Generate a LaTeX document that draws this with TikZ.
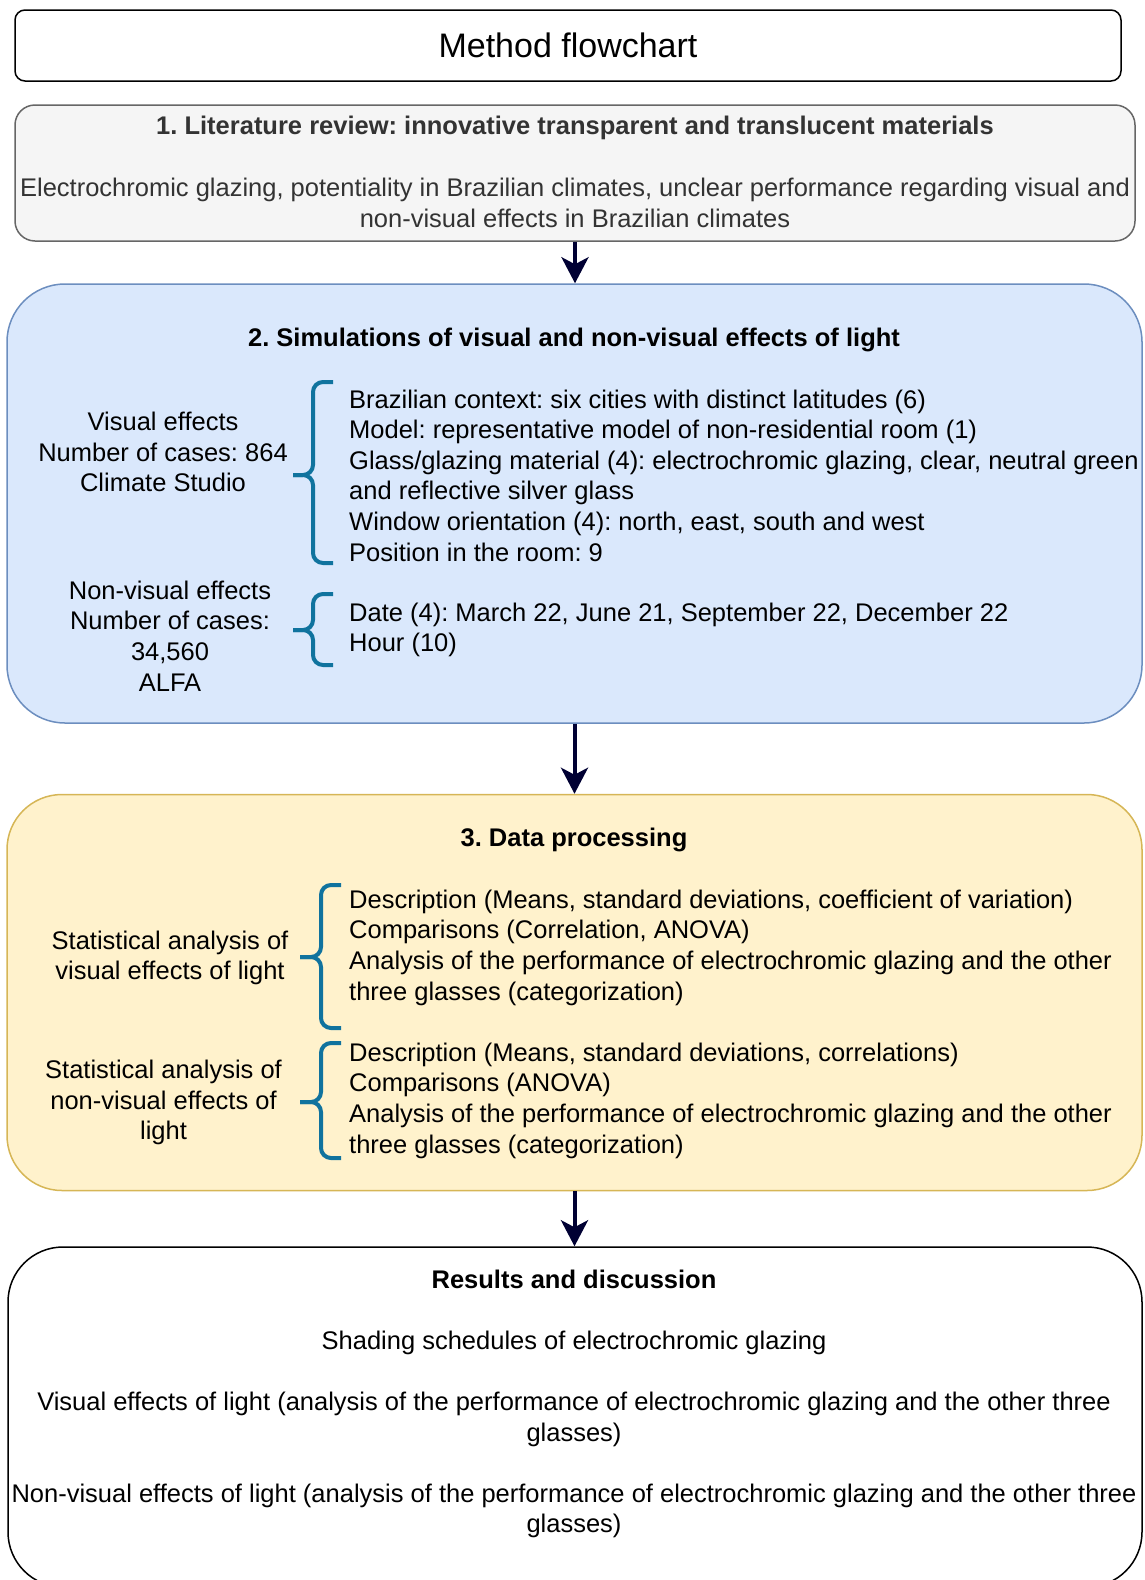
\documentclass[tikz,border=0pt]{standalone}
\usepackage{fontspec}
\setmainfont{Liberation Sans}
\usetikzlibrary{arrows.meta}
\frenchspacing

\definecolor{grayfill}{HTML}{F5F5F5}
\definecolor{graystroke}{HTML}{666666}
\definecolor{graytext}{HTML}{333333}
\definecolor{bluefill}{HTML}{DAE8FC}
\definecolor{bluestroke}{HTML}{6C8EBF}
\definecolor{yellowfill}{HTML}{FFF2CC}
\definecolor{yellowstroke}{HTML}{D6B656}
\definecolor{bracecol}{HTML}{10739E}
\definecolor{arrowcol}{HTML}{000033}

\tikzset{
  panel/.style={draw, line width=1.5pt, inner sep=0pt},
  txt/.style={font=\fontsize{25.5}{30.7}\selectfont, inner sep=0pt, align=center},
  listtxt/.style={font=\fontsize{25.5}{30.6}\selectfont, inner sep=0pt, align=left, anchor=west},
  headtxt/.style={font=\fontsize{25.5}{30.7}\selectfont\bfseries, inner sep=0pt},
  flowarrow/.style={draw=arrowcol, line width=4pt,
    -{Stealth[length=26pt, width=27pt, inset=7pt]}},
  bracket/.style={draw=bracecol, line width=4pt, rounded corners=10pt}
}

% curly bracket: tip x, spine x, end x, top y, middle y, bottom y
\newcommand{\curlybracket}[6]{%
  \draw[bracket] (#3,#4) -- (#2,#4) -- (#2,#5) -- (#1,#5);
  \draw[bracket] (#3,#6) -- (#2,#6) -- (#2,#5) -- (#1,#5);
}

\begin{document}
\begin{tikzpicture}[x=1pt, y=-1pt]
\useasboundingbox (0,0) rectangle (1145,1580);

% ---- title ----
\node[panel, rounded corners=10pt, minimum width=1106pt, minimum height=71pt,
      font=\fontsize{34}{40}\selectfont] (title) at (568,45.5) {Method flowchart};

% ---- 1. literature review ----
\node[panel, draw=graystroke, fill=grayfill, rounded corners=20pt,
      minimum width=1120pt, minimum height=136pt] (lit) at (575,173) {};
\node[headtxt, text=graytext] (litHead) at (575,128)
  {1. Literature review: innovative transparent and translucent materials};
\node[txt, text=graytext] (litBody) at (575,203)
  {Electrochromic glazing, potentiality in Brazilian climates, unclear performance regarding visual and\\
   non-visual effects in Brazilian climates};

% ---- 2. simulations ----
\node[panel, draw=bluestroke, fill=bluefill, rounded corners=58pt,
      minimum width=1135pt, minimum height=439pt] (sim) at (574.5,503.5) {};
\node[headtxt] (simHead) at (574,340)
  {2. Simulations of visual and non-visual effects of light};
\node[txt] (visEff) at (163,452)
  {Visual effects\\ Number of cases: 864\\ Climate Studio};
\node[listtxt] (visList) at (349,475.5)
  {Brazilian context: six cities with distinct latitudes (6)\\
   Model: representative model of non-residential room (1)\\
   Glass/glazing material (4): electrochromic glazing, clear, neutral green\\
   and reflective silver glass\\
   Window orientation (4): north, east, south and west\\
   Position in the room: 9};
\node[txt] (nonvisEff) at (170,636)
  {Non-visual effects\\ Number of cases:\\ 34,560\\ ALFA};
\node[listtxt] (nonvisList) at (349,630)
  {Date (4): March 22, June 21, September 22, December 22\\
   Hour (10)};
\curlybracket{293}{313}{333}{382}{475}{563}
\curlybracket{293}{313}{333}{594}{630}{665}

% ---- 3. data processing ----
\node[panel, draw=yellowstroke, fill=yellowfill, rounded corners=55pt,
      minimum width=1135pt, minimum height=396pt] (data) at (574.5,992.5) {};
\node[headtxt] (dataHead) at (574,839.6) {3. Data processing};
\node[txt] (statVis) at (170,958)
  {Statistical analysis of\\ visual effects of light};
\node[listtxt] (statVisList) at (349,947.5)
  {Description (Means, standard deviations, coefficient of variation)\\
   Comparisons (Correlation, ANOVA)\\
   Analysis of the performance of electrochromic glazing and the other\\
   three glasses (categorization)};
\node[txt] (statNonvis) at (163.5,1102.5)
  {Statistical analysis of\\ non-visual effects of\\ light};
\node[listtxt] (statNonvisList) at (349,1100.5)
  {Description (Means, standard deviations, correlations)\\
   Comparisons (ANOVA)\\
   Analysis of the performance of electrochromic glazing and the other\\
   three glasses (categorization)};
\curlybracket{300}{321}{341}{885}{957}{1028}
\curlybracket{300}{321}{341}{1043}{1102}{1158}

% ---- results ----
\node[panel, rounded corners=55pt,
      minimum width=1134pt, minimum height=340pt] (res) at (575,1417) {};
\node[headtxt] (resHead) at (574,1279) {Results and discussion};
\node[txt] (resShade) at (574,1342.6) {Shading schedules of electrochromic glazing};
\node[txt] (resVis) at (574,1419.5)
  {Visual effects of light (analysis of the performance of electrochromic glazing and the other three\\ glasses)};
\node[txt] (resNonvis) at (574,1511)
  {Non-visual effects of light (analysis of the performance of electrochromic glazing and the other three\\ glasses)};

% ---- connectors ----
\draw[flowarrow] (lit.south) -- (lit.south |- sim.north);
\draw[flowarrow] (sim.south) -- (sim.south |- data.north);
\draw[flowarrow] (data.south) -- (data.south |- res.north);
\end{tikzpicture}
\end{document}
